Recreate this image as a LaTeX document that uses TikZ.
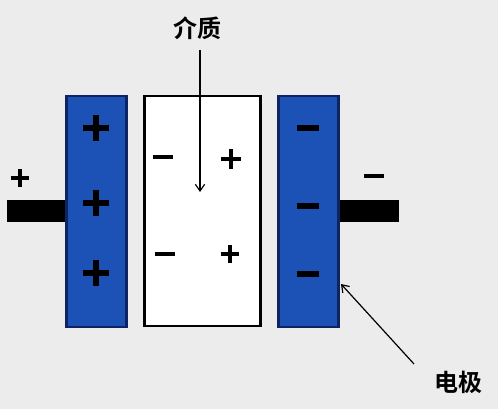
\documentclass[tikz,border=0pt]{standalone}
\usepackage{fontspec}
\newfontfamily\cjk{Noto Sans CJK SC Bold}
\definecolor{bg}{RGB}{236,236,236}
\definecolor{plateblue}{RGB}{28,82,182}
\definecolor{platedark}{RGB}{12,36,100}
\tikzset{
  plate/.style={draw=platedark,line width=1.8pt,fill=plateblue,minimum width=45pt,minimum height=173pt,inner sep=0pt},
  dielbox/.style={draw=black,line width=1.6pt,fill=white,minimum width=87pt,minimum height=172pt,inner sep=0pt},
  terminal/.style={fill=black,minimum width=45pt,minimum height=16.5pt,inner sep=0pt},
  bigplus/.style={line width=4.5pt},
  smallsign/.style={line width=3pt},
  lbl/.style={font=\cjk\fontsize{18}{18}\selectfont,inner sep=0pt},
  pointer/.style={line width=0.9pt,-{Straight Barb[length=5pt,width=7pt]}}
}
\usetikzlibrary{arrows.meta}
\newcommand{\plussign}[3]{\draw[#3] ([xshift=-#2]#1) -- ([xshift=#2]#1); \draw[#3] ([yshift=-#2]#1) -- ([yshift=#2]#1);}
\newcommand{\minussign}[3]{\draw[#3] ([xshift=-#2]#1) -- ([xshift=#2]#1);}
\begin{document}
\begin{tikzpicture}[x=0.75pt,y=-0.75pt]
\fill[bg] (0,0) rectangle (498,409);
\useasboundingbox (0,0) rectangle (498,409);
% terminals
\node[terminal] (tl) at (36.5,211) {};
\node[terminal] (tr) at (368.5,211) {};
% plates
\node[plate] (pl) at (96.5,211.5) {};
\node[dielbox] (d) at (202.5,211) {};
\node[plate] (pr) at (308.5,211.5) {};
% charges on left plate
\coordinate (lp1) at (96,128);
\coordinate (lp2) at (96,203);
\coordinate (lp3) at (96,273);
\plussign{lp1}{9.5pt}{bigplus}
\plussign{lp2}{9.5pt}{bigplus}
\plussign{lp3}{9.5pt}{bigplus}
% charges on right plate
\coordinate (rp1) at (308,128);
\coordinate (rp2) at (308,206);
\coordinate (rp3) at (308,274);
\minussign{rp1}{8.5pt}{bigplus}
\minussign{rp2}{8.5pt}{bigplus}
\minussign{rp3}{8.5pt}{bigplus}
% terminal signs
\coordinate (tplus) at (20,178);
\coordinate (tminus) at (374,176);
\plussign{tplus}{7pt}{smallsign}
\minussign{tminus}{7.5pt}{smallsign}
% dielectric charges
\coordinate (dm1) at (163,157);
\coordinate (dp1) at (231,159);
\coordinate (dm2) at (165,254);
\coordinate (dp2) at (230,254);
\minussign{dm1}{7.5pt}{smallsign}
\plussign{dp1}{7.5pt}{smallsign}
\minussign{dm2}{7.5pt}{smallsign}
\plussign{dp2}{7pt}{smallsign}
% labels
\node[lbl] (medium) at (197,28) {介质};
\node[lbl] (electrode) at (458,382) {电极};
\coordinate (mtip) at (200,192);
\coordinate (etip) at (341,284);
\coordinate (mstart) at (200,50);
\coordinate (estart) at (414,364);
\draw[pointer] (mstart) -- (mtip);
\draw[pointer] (estart) -- (etip);
\end{tikzpicture}
\end{document}
